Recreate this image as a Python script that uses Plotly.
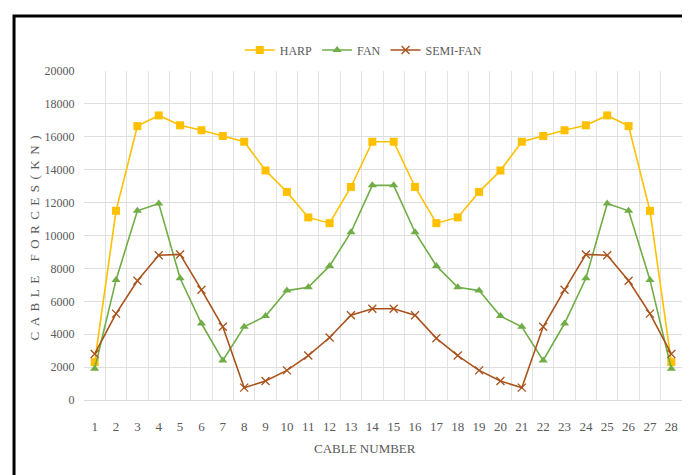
import plotly.graph_objects as go

cables = list(range(1, 29))
harp = [2300, 11500, 16650, 17300, 16700, 16400, 16050, 15700, 13950, 12650, 11100, 10750, 12950, 15700,
        15700, 12950, 10750, 11100, 12650, 13950, 15700, 16050, 16400, 16700, 17300, 16650, 11500, 2300]
fan = [1900, 7300, 11500, 11950, 7400, 4650, 2400, 4450, 5100, 6650, 6850, 8150, 10200, 13050,
       13050, 10200, 8150, 6850, 6650, 5100, 4450, 2400, 4650, 7400, 11950, 11500, 7300, 1900]
semi_fan = [2800, 5250, 7250, 8800, 8850, 6700, 4450, 750, 1150, 1800, 2700, 3800, 5150, 5550,
            5550, 5150, 3750, 2700, 1800, 1150, 750, 4450, 6700, 8850, 8800, 7250, 5250, 2800]
y_ticks = [0, 2000, 4000, 6000, 8000, 10000, 12000, 14000, 16000, 18000, 20000]
y_tick_labels = [str(v) for v in y_ticks]

FONT = "Liberation Serif"
GRAY = "#595959"

fig = go.Figure()
fig.add_trace(go.Scatter(x=cables, y=harp, name="HARP", mode="lines+markers",
                         line=dict(color="#FFC000", width=1.6),
                         marker=dict(symbol="square", size=8, color="#FFC000")))
fig.add_trace(go.Scatter(x=cables, y=fan, name="FAN", mode="lines+markers",
                         line=dict(color="#70AD47", width=1.6),
                         marker=dict(symbol="triangle-up", size=8, color="#70AD47")))
fig.add_trace(go.Scatter(x=cables, y=semi_fan, name="SEMI-FAN", mode="lines+markers",
                         line=dict(color="#A9521C", width=1.6),
                         marker=dict(symbol="x-thin", size=8, color="#A9521C",
                                     line=dict(color="#A9521C", width=1.3))))

fig.update_layout(
    width=690, height=475,
    margin=dict(l=76, r=16, t=63, b=83),
    paper_bgcolor="white", plot_bgcolor="white",
    font=dict(family=FONT, size=13, color=GRAY),
    showlegend=True,
    legend=dict(orientation="h", x=0.467, xanchor="center", y=1.064, yanchor="middle",
                font=dict(family=FONT, size=12, color=GRAY), itemwidth=30,
                tracegroupgap=0),
    xaxis=dict(range=[0.5, 28.5], tickmode="array", tickvals=cables,
               ticktext=[str(c) for c in cables], showgrid=False, zeroline=False,
               ticks="outside", ticklen=14, tickcolor="rgba(0,0,0,0)",
               showline=True, linecolor="#d9d9d9", linewidth=1,
               tickfont=dict(family=FONT, size=13, color=GRAY),
               minor=dict(tick0=0.5, dtick=1, showgrid=True, gridcolor="#e3e3e3",
                          gridwidth=1, ticks="")),
    yaxis=dict(range=[0, 20000], tickmode="array", tickvals=y_ticks, ticktext=y_tick_labels,
               showgrid=True, gridcolor="#dedede", gridwidth=1, zeroline=False,
               ticks="outside", ticklen=6, tickcolor="rgba(0,0,0,0)",
               tickfont=dict(family=FONT, size=12, color=GRAY)),
    annotations=[
        dict(text='<span style="letter-spacing:5.5px">CABLE FORCES(KN)</span>',
             xref="paper", yref="paper", x=-0.082, y=0.5, textangle=-90,
             showarrow=False, xanchor="center", yanchor="middle",
             font=dict(family=FONT, size=13, color=GRAY)),
        dict(text="CABLE NUMBER", xref="paper", yref="paper", x=0.47, y=-0.146,
             showarrow=False, xanchor="center", yanchor="middle",
             font=dict(family=FONT, size=13, color=GRAY)),
    ],
    shapes=[
        dict(type="rect", xref="paper", yref="paper", x0=-0.117, x1=1.06, y0=-0.3, y1=1.167,
             line=dict(color="black", width=3), fillcolor="rgba(0,0,0,0)", layer="above"),
    ],
)

fig.write_html("out.html")
